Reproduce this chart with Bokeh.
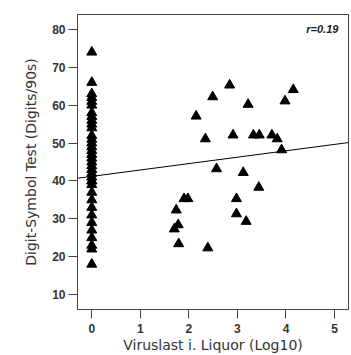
from bokeh.plotting import figure
from bokeh.models import ColumnDataSource, Label, FixedTicker, Range1d
from bokeh.embed import file_html
from bokeh.resources import INLINE

# Patients with no detectable viral load (x = 0)
zero_load_x = [0.0] * 36
zero_load_y = [74, 66, 63, 62, 61, 60, 58, 57, 56, 55, 54, 52, 51, 50, 49, 48,
               47, 46, 45, 44, 43, 42, 41, 40, 40, 39, 37, 35, 33, 31, 29, 27,
               25, 23, 22, 18]

# Patients with detectable viral load
load_x = [2.84, 4.15, 2.49, 3.98, 3.22, 2.15, 2.34, 2.91, 3.33, 3.45, 3.71,
          3.82, 3.91, 2.57, 3.12, 3.44, 1.90, 1.98, 2.98, 1.74, 2.98, 3.18,
          1.78, 1.70, 1.79, 2.39]
load_y = [65.3, 64.1, 62.2, 61.1, 60.2, 57.1, 51.1, 52.1, 52.1, 52.1, 52.1,
          51.1, 48.2, 43.2, 42.2, 38.3, 35.3, 35.3, 35.3, 32.3, 31.3, 29.3,
          28.4, 27.3, 23.4, 22.3]

# Regression line
fit_intercept = 41.2
fit_slope = 1.69
r_text = "r=0.19"

x_ticks = [0, 1, 2, 3, 4, 5]
y_ticks = [10, 20, 30, 40, 50, 60, 70, 80]

x_lo, x_hi = -0.294, 5.288
y_lo, y_hi = 6.05, 83.95

p = figure(width=351, height=355, output_backend="svg", toolbar_location=None,
           x_range=Range1d(x_lo, x_hi), y_range=Range1d(y_lo, y_hi))
p.min_border_left = 77
p.min_border_right = 3
p.min_border_top = 14
p.min_border_bottom = 45
p.background_fill_color = "white"
p.border_fill_color = "white"
p.outline_line_color = "#444444"
p.outline_line_width = 1
p.grid.visible = False

all_x = zero_load_x + load_x
all_y = zero_load_y + load_y
src = ColumnDataSource(dict(x=all_x, y=all_y))
p.scatter("x", "y", source=src, marker="triangle", size=10,
          fill_color="black", line_color="black")

fx = [x_lo, x_hi]
fy = [fit_intercept + fit_slope * v for v in fx]
p.line(fx, fy, line_color="black", line_width=1)

for ax in (p.xaxis[0], p.yaxis[0]):
    ax.axis_line_color = "#444444"
    ax.major_tick_line_color = "#444444"
    ax.minor_tick_line_color = None
    ax.major_tick_out = 9
    ax.major_tick_in = 0
    ax.major_label_text_font = "Liberation Sans"
    ax.major_label_text_font_style = "bold"
    ax.major_label_text_font_size = "12px"
    ax.major_label_text_color = "#333333"
    ax.axis_label_text_font = "DejaVu Sans"
    ax.axis_label_text_font_style = "normal"
    ax.axis_label_text_font_size = "14px"
    ax.axis_label_text_color = "#333333"

p.xaxis.ticker = FixedTicker(ticks=x_ticks)
p.yaxis.ticker = FixedTicker(ticks=y_ticks)
p.xaxis.major_label_standoff = 5
p.xaxis.axis_label_standoff = 1
p.yaxis.major_label_standoff = 3
p.yaxis.axis_label_standoff = 10
p.xaxis.axis_label = "Viruslast i. Liquor (Log10)"
p.yaxis.axis_label = "Digit-Symbol Test (Digits/90s)"

p.add_layout(Label(x=5.08, y=80, text=r_text, text_align="right",
                   text_baseline="middle", text_font="Liberation Sans",
                   text_font_style="bold italic", text_font_size="11px",
                   text_color="#222222"))

open("out.html", "w").write(file_html(p, INLINE))
